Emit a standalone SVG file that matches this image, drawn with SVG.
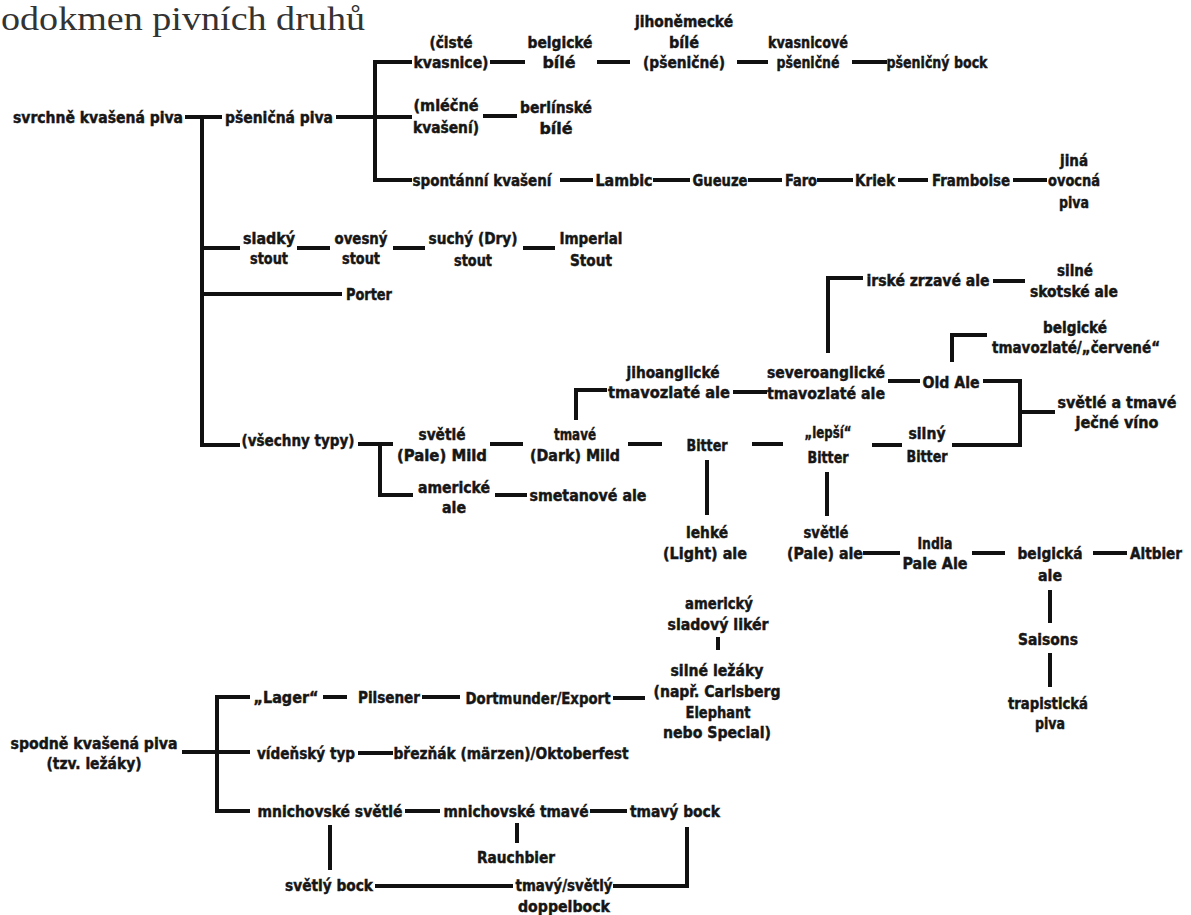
<svg xmlns="http://www.w3.org/2000/svg" width="1191" height="915" viewBox="0 0 1191 915">
<style>
.t{font-family:"Liberation Sans Narrow","DejaVu Sans Condensed","Liberation Sans",Arial,sans-serif;font-weight:bold;font-size:16px;fill:#161616;stroke:#161616;stroke-width:0.45;text-anchor:middle}
.title{font-family:"Liberation Serif","DejaVu Serif",serif;font-size:34px;fill:#333}
#connectors path{fill:none;stroke:#111;stroke-width:4;stroke-linecap:butt;stroke-linejoin:miter}
</style>
<rect width="1191" height="915" fill="#fff"/>
<text class="title" x="1" y="30" textLength="364" lengthAdjust="spacingAndGlyphs">odokmen pivních druhů</text>
<g id="connectors">
<path d="M185 117H222"/>
<path d="M202 117V445H240"/>
<path d="M202 248H240"/>
<path d="M202 294H342"/>
<path d="M336 117H412"/>
<path d="M412 62H375V180H412"/>
<path d="M490 62H525"/>
<path d="M597 62H630"/>
<path d="M737 62H768"/>
<path d="M852 62H887"/>
<path d="M483 116H517"/>
<path d="M560 180H593"/>
<path d="M653 180H690"/>
<path d="M748 180H782"/>
<path d="M817 180H853"/>
<path d="M898 180H928"/>
<path d="M1013 180H1047"/>
<path d="M297 248H330"/>
<path d="M393 248H425"/>
<path d="M523 248H555"/>
<path d="M358 444H393"/>
<path d="M380 444V495H413"/>
<path d="M490 444H523"/>
<path d="M628 444H662"/>
<path d="M752 444H783"/>
<path d="M872 445H902"/>
<path d="M576 420V390H607"/>
<path d="M733 392H767"/>
<path d="M828 353V278H863"/>
<path d="M993 281H1025"/>
<path d="M888 381H920"/>
<path d="M952 362V335H987"/>
<path d="M983 381H1020V445H952"/>
<path d="M1020 412H1055"/>
<path d="M707 460V515"/>
<path d="M827 472V516"/>
<path d="M495 495H527"/>
<path d="M863 553H900"/>
<path d="M972 553H1005"/>
<path d="M1093 553H1127"/>
<path d="M1050 590V623"/>
<path d="M1050 653V687"/>
<path d="M718 637V650"/>
<path d="M182 752H250"/>
<path d="M250 697H217V811H250"/>
<path d="M323 697H347"/>
<path d="M422 697H460"/>
<path d="M613 698H645"/>
<path d="M358 753H393"/>
<path d="M405 811H440"/>
<path d="M590 811H627"/>
<path d="M330 825V870"/>
<path d="M517 823V843"/>
<path d="M375 886H513"/>
<path d="M613 886H687V827"/>
</g>
<g id="n1"><text class="t" x="98" y="123" textLength="170" lengthAdjust="spacingAndGlyphs">svrchně kvašená piva</text></g>
<g id="n2"><text class="t" x="279" y="123" textLength="108" lengthAdjust="spacingAndGlyphs">pšeničná piva</text></g>
<g id="n3"><text class="t" x="451" y="48" textLength="43" lengthAdjust="spacingAndGlyphs">(čisté</text><text class="t" x="451" y="68" textLength="75" lengthAdjust="spacingAndGlyphs">kvasnice)</text></g>
<g id="n4"><text class="t" x="560" y="48" textLength="65" lengthAdjust="spacingAndGlyphs">belgické</text><text class="t" x="559" y="68" textLength="33" lengthAdjust="spacingAndGlyphs">bílé</text></g>
<g id="n5"><text class="t" x="684" y="27" textLength="98" lengthAdjust="spacingAndGlyphs">jihoněmecké</text><text class="t" x="684" y="48" textLength="30" lengthAdjust="spacingAndGlyphs">bílé</text><text class="t" x="684" y="68" textLength="82" lengthAdjust="spacingAndGlyphs">(pšeničné)</text></g>
<g id="n6"><text class="t" x="808" y="48" textLength="80" lengthAdjust="spacingAndGlyphs">kvasnicové</text><text class="t" x="808" y="68" textLength="63" lengthAdjust="spacingAndGlyphs">pšeničné</text></g>
<g id="n7"><text class="t" x="937" y="68" textLength="101" lengthAdjust="spacingAndGlyphs">pšeničný bock</text></g>
<g id="n8"><text class="t" x="446" y="111" textLength="65" lengthAdjust="spacingAndGlyphs">(mléčné</text><text class="t" x="446" y="133" textLength="66" lengthAdjust="spacingAndGlyphs">kvašení)</text></g>
<g id="n9"><text class="t" x="556" y="113" textLength="72" lengthAdjust="spacingAndGlyphs">berlínské</text><text class="t" x="556" y="134" textLength="33" lengthAdjust="spacingAndGlyphs">bílé</text></g>
<g id="n10"><text class="t" x="482" y="186" textLength="139" lengthAdjust="spacingAndGlyphs">spontánní kvašení</text></g>
<g id="n11"><text class="t" x="624" y="186" textLength="57" lengthAdjust="spacingAndGlyphs">Lambic</text></g>
<g id="n12"><text class="t" x="720" y="186" textLength="55" lengthAdjust="spacingAndGlyphs">Gueuze</text></g>
<g id="n13"><text class="t" x="801" y="186" textLength="32" lengthAdjust="spacingAndGlyphs">Faro</text></g>
<g id="n14"><text class="t" x="875" y="186" textLength="40" lengthAdjust="spacingAndGlyphs">Kriek</text></g>
<g id="n15"><text class="t" x="971" y="186" textLength="78" lengthAdjust="spacingAndGlyphs">Framboise</text></g>
<g id="n16"><text class="t" x="1074" y="166" textLength="28" lengthAdjust="spacingAndGlyphs">jiná</text><text class="t" x="1074" y="186" textLength="52" lengthAdjust="spacingAndGlyphs">ovocná</text><text class="t" x="1074" y="208" textLength="30" lengthAdjust="spacingAndGlyphs">piva</text></g>
<g id="n17"><text class="t" x="269" y="244" textLength="52" lengthAdjust="spacingAndGlyphs">sladký</text><text class="t" x="269" y="264" textLength="38" lengthAdjust="spacingAndGlyphs">stout</text></g>
<g id="n18"><text class="t" x="361" y="244" textLength="53" lengthAdjust="spacingAndGlyphs">ovesný</text><text class="t" x="361" y="264" textLength="38" lengthAdjust="spacingAndGlyphs">stout</text></g>
<g id="n19"><text class="t" x="473" y="244" textLength="89" lengthAdjust="spacingAndGlyphs">suchý (Dry)</text><text class="t" x="473" y="266" textLength="38" lengthAdjust="spacingAndGlyphs">stout</text></g>
<g id="n20"><text class="t" x="591" y="244" textLength="63" lengthAdjust="spacingAndGlyphs">Imperial</text><text class="t" x="591" y="266" textLength="42" lengthAdjust="spacingAndGlyphs">Stout</text></g>
<g id="n21"><text class="t" x="369" y="300" textLength="46" lengthAdjust="spacingAndGlyphs">Porter</text></g>
<g id="n22"><text class="t" x="298" y="446" textLength="113" lengthAdjust="spacingAndGlyphs">(všechny typy)</text></g>
<g id="n23"><text class="t" x="442" y="440" textLength="47" lengthAdjust="spacingAndGlyphs">světlé</text><text class="t" x="442" y="461" textLength="90" lengthAdjust="spacingAndGlyphs">(Pale) Mild</text></g>
<g id="n24"><text class="t" x="575" y="440" textLength="42" lengthAdjust="spacingAndGlyphs">tmavé</text><text class="t" x="575" y="461" textLength="90" lengthAdjust="spacingAndGlyphs">(Dark) Mild</text></g>
<g id="n25"><text class="t" x="673" y="378" textLength="93" lengthAdjust="spacingAndGlyphs">jihoanglické</text><text class="t" x="669" y="398" textLength="122" lengthAdjust="spacingAndGlyphs">tmavozlaté ale</text></g>
<g id="n26"><text class="t" x="826" y="378" textLength="118" lengthAdjust="spacingAndGlyphs">severoanglické</text><text class="t" x="826" y="399" textLength="118" lengthAdjust="spacingAndGlyphs">tmavozlaté ale</text></g>
<g id="n27"><text class="t" x="928" y="286" textLength="123" lengthAdjust="spacingAndGlyphs">irské zrzavé ale</text></g>
<g id="n28"><text class="t" x="1075" y="276" textLength="36" lengthAdjust="spacingAndGlyphs">silné</text><text class="t" x="1074" y="297" textLength="88" lengthAdjust="spacingAndGlyphs">skotské ale</text></g>
<g id="n29"><text class="t" x="951" y="388" textLength="57" lengthAdjust="spacingAndGlyphs">Old Ale</text></g>
<g id="n30"><text class="t" x="1075" y="333" textLength="64" lengthAdjust="spacingAndGlyphs">belgické</text><text class="t" x="1076" y="353" textLength="168" lengthAdjust="spacingAndGlyphs">tmavozlaté/„červené“</text></g>
<g id="n31"><text class="t" x="1117" y="408" textLength="119" lengthAdjust="spacingAndGlyphs">světlé a tmavé</text><text class="t" x="1117" y="428" textLength="83" lengthAdjust="spacingAndGlyphs">ječné víno</text></g>
<g id="n32"><text class="t" x="707" y="451" textLength="41" lengthAdjust="spacingAndGlyphs">Bitter</text></g>
<g id="n33"><text class="t" x="828" y="438" textLength="47" lengthAdjust="spacingAndGlyphs">„lepší“</text><text class="t" x="828" y="463" textLength="41" lengthAdjust="spacingAndGlyphs">Bitter</text></g>
<g id="n34"><text class="t" x="927" y="439" textLength="37" lengthAdjust="spacingAndGlyphs">silný</text><text class="t" x="927" y="462" textLength="41" lengthAdjust="spacingAndGlyphs">Bitter</text></g>
<g id="n35"><text class="t" x="454" y="493" textLength="72" lengthAdjust="spacingAndGlyphs">americké</text><text class="t" x="454" y="513" textLength="24" lengthAdjust="spacingAndGlyphs">ale</text></g>
<g id="n36"><text class="t" x="588" y="501" textLength="117" lengthAdjust="spacingAndGlyphs">smetanové ale</text></g>
<g id="n37"><text class="t" x="707" y="538" textLength="42" lengthAdjust="spacingAndGlyphs">lehké</text><text class="t" x="705" y="559" textLength="84" lengthAdjust="spacingAndGlyphs">(Light) ale</text></g>
<g id="n38"><text class="t" x="826" y="538" textLength="45" lengthAdjust="spacingAndGlyphs">světlé</text><text class="t" x="825" y="559" textLength="76" lengthAdjust="spacingAndGlyphs">(Pale) ale</text></g>
<g id="n39"><text class="t" x="935" y="549" textLength="35" lengthAdjust="spacingAndGlyphs">India</text><text class="t" x="935" y="569" textLength="65" lengthAdjust="spacingAndGlyphs">Pale Ale</text></g>
<g id="n40"><text class="t" x="1050" y="559" textLength="65" lengthAdjust="spacingAndGlyphs">belgická</text><text class="t" x="1050" y="581" textLength="24" lengthAdjust="spacingAndGlyphs">ale</text></g>
<g id="n41"><text class="t" x="1156" y="559" textLength="52" lengthAdjust="spacingAndGlyphs">Altbier</text></g>
<g id="n42"><text class="t" x="1048" y="645" textLength="60" lengthAdjust="spacingAndGlyphs">Saisons</text></g>
<g id="n43"><text class="t" x="1048" y="709" textLength="80" lengthAdjust="spacingAndGlyphs">trapistická</text><text class="t" x="1050" y="729" textLength="30" lengthAdjust="spacingAndGlyphs">piva</text></g>
<g id="n44"><text class="t" x="719" y="609" textLength="68" lengthAdjust="spacingAndGlyphs">americký</text><text class="t" x="718" y="630" textLength="101" lengthAdjust="spacingAndGlyphs">sladový likér</text></g>
<g id="n45"><text class="t" x="717" y="676" textLength="93" lengthAdjust="spacingAndGlyphs">silné ležáky</text><text class="t" x="717" y="697" textLength="127" lengthAdjust="spacingAndGlyphs">(např. Carlsberg</text><text class="t" x="718" y="718" textLength="65" lengthAdjust="spacingAndGlyphs">Elephant</text><text class="t" x="717" y="738" textLength="108" lengthAdjust="spacingAndGlyphs">nebo Special)</text></g>
<g id="n46"><text class="t" x="94" y="749" textLength="167" lengthAdjust="spacingAndGlyphs">spodně kvašená piva</text><text class="t" x="94" y="769" textLength="95" lengthAdjust="spacingAndGlyphs">(tzv. ležáky)</text></g>
<g id="n47"><text class="t" x="286" y="703" textLength="65" lengthAdjust="spacingAndGlyphs">„Lager“</text></g>
<g id="n48"><text class="t" x="389" y="703" textLength="62" lengthAdjust="spacingAndGlyphs">Pilsener</text></g>
<g id="n49"><text class="t" x="538" y="704" textLength="145" lengthAdjust="spacingAndGlyphs">Dortmunder/Export</text></g>
<g id="n50"><text class="t" x="306" y="759" textLength="98" lengthAdjust="spacingAndGlyphs">vídeňský typ</text></g>
<g id="n51"><text class="t" x="511" y="759" textLength="235" lengthAdjust="spacingAndGlyphs">březňák (märzen)/Oktoberfest</text></g>
<g id="n52"><text class="t" x="330" y="817" textLength="145" lengthAdjust="spacingAndGlyphs">mnichovské světlé</text></g>
<g id="n53"><text class="t" x="516" y="817" textLength="145" lengthAdjust="spacingAndGlyphs">mnichovské tmavé</text></g>
<g id="n54"><text class="t" x="675" y="817" textLength="90" lengthAdjust="spacingAndGlyphs">tmavý bock</text></g>
<g id="n55"><text class="t" x="516" y="863" textLength="78" lengthAdjust="spacingAndGlyphs">Rauchbier</text></g>
<g id="n56"><text class="t" x="329" y="891" textLength="88" lengthAdjust="spacingAndGlyphs">světlý bock</text></g>
<g id="n57"><text class="t" x="564" y="891" textLength="97" lengthAdjust="spacingAndGlyphs">tmavý/světlý</text><text class="t" x="564" y="912" textLength="92" lengthAdjust="spacingAndGlyphs">doppelbock</text></g>
</svg>
